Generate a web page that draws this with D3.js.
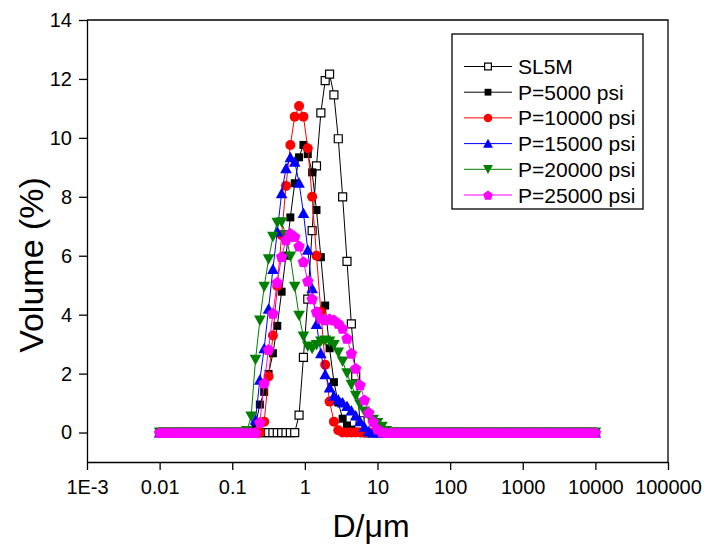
<!DOCTYPE html>
<html><head><meta charset="utf-8">
<script src="https://cdn.jsdelivr.net/npm/d3@7"></script>
<style>body{margin:0;background:#fff} svg text{font-family:"Liberation Sans",Arial,sans-serif;fill:#000}</style>
</head><body><svg id="c" width="706" height="550"></svg>
<script>
// particle diameters (µm)
const diameters = [0.0100,0.01148,0.01318,0.01514,0.01738,0.01995,0.02291,0.02630,0.03020,0.03467,
0.03981,0.04571,0.05248,0.06026,0.06918,0.07943,0.09120,0.1047,0.1202,0.1380,
0.1585,0.1820,0.2089,0.2399,0.2754,0.3162,0.3631,0.4169,0.4786,0.5495,
0.6310,0.7244,0.8318,0.9550,1.096,1.259,1.445,1.660,1.905,2.188,
2.512,2.884,3.311,3.802,4.365,5.012,5.754,6.607,7.586,8.710,
10.00,11.48,13.18,15.14,17.38,19.95,22.91,26.30,30.20,34.67,
39.81,45.71,52.48,60.26,69.18,79.43,91.20,104.7,120.2,138.0,
158.5,182.0,208.9,239.9,275.4,316.2,363.1,416.9,478.6,549.5,
631.0,724.4,831.8,955.0,1096,1259,1445,1660,1905,2188,
2512,2884,3311,3802,4365,5012,5754,6607,7586,8710,10000];

const volSL5M = [0,0,0,0,0,0,0,0,0,0, 0,0,0,0,0,0,0,0,0,0, 0,0,0,0,0,0,0,0,0,0,
0,0,0.59,2.55,4.53,6.85,9.05,10.85,11.94,12.16, 11.46,9.97,8.0,5.81,3.69,1.92,0.4,0,0,0,
0,0,0,0,0,0,0,0,0,0, 0,0,0,0,0,0,0,0,0,0, 0,0,0,0,0,0,0,0,0,0, 0,0,0,0,0,0,0,0,0,0, 0,0,0,0,0,0,0,0,0,0,0];
const volP5000 = [0,0,0,0,0,0,0,0,0,0, 0,0,0,0,0,0,0,0,0,0, 0,0,0.25,0.95,1.38,1.99,2.69,3.62,4.78,6.0,
7.3,8.46,9.34,9.76,9.45,8.83,7.55,5.95,4.31,2.86, 1.71,1.02,0.47,0.24,0.1,0.03,0,0,0,0,
0,0,0,0,0,0,0,0,0,0, 0,0,0,0,0,0,0,0,0,0, 0,0,0,0,0,0,0,0,0,0, 0,0,0,0,0,0,0,0,0,0, 0,0,0,0,0,0,0,0,0,0,0];
const volP10000 = [0,0,0,0,0,0,0,0,0,0, 0,0,0,0,0,0,0,0,0,0, 0,0,0,0,0.37,1.9,3.29,4.97,6.7,8.37,
9.76,10.72,11.08,10.72,9.65,8.0,6.0,4.1,2.3,1.05, 0.37,0.08,0,0,0,0,0,0,0,0,
0,0,0,0,0,0,0,0,0,0, 0,0,0,0,0,0,0,0,0,0, 0,0,0,0,0,0,0,0,0,0, 0,0,0,0,0,0,0,0,0,0, 0,0,0,0,0,0,0,0,0,0,0];
const volP15000 = [0,0,0,0,0,0,0,0,0,0, 0,0,0,0,0,0,0,0,0,0, 0,0.05,0.43,1.79,2.86,4.2,5.55,6.82,8.12,8.97,
9.34,9.19,8.48,7.45,6.2,4.9,3.68,2.69,1.98,1.53, 1.25,1.12,1.02,0.9,0.75,0.58,0.38,0.2,0.04,0,
0,0,0,0,0,0,0,0,0,0, 0,0,0,0,0,0,0,0,0,0, 0,0,0,0,0,0,0,0,0,0, 0,0,0,0,0,0,0,0,0,0, 0,0,0,0,0,0,0,0,0,0,0];
const volP20000 = [0,0,0,0,0,0,0,0,0,0, 0,0,0,0,0,0,0,0,0,0, 0.05,0.54,2.47,3.8,4.95,5.88,6.64,7.12,7.14,6.7,
5.97,4.95,3.96,3.26,2.92,2.84,2.97,3.09,3.12,3.09, 2.97,2.72,2.41,2.01,1.62,1.25,0.94,0.71,0.57,0.43,
0.32,0.2,0.05,0,0,0,0,0,0,0, 0,0,0,0,0,0,0,0,0,0, 0,0,0,0,0,0,0,0,0,0, 0,0,0,0,0,0,0,0,0,0, 0,0,0,0,0,0,0,0,0,0,0];
const volP25000 = [0,0,0,0,0,0,0,0,0,0, 0,0,0,0,0,0,0,0,0,0, 0,0,0,0.35,1.68,2.82,4.05,5.1,5.97,6.54,
6.76,6.65,6.33,5.8,5.14,4.54,4.1,3.88,3.83,3.86, 3.82,3.71,3.54,3.2,2.69,2.18,1.62,1.11,0.68,0.37,
0.12,0.02,0,0,0,0,0,0,0,0, 0,0,0,0,0,0,0,0,0,0, 0,0,0,0,0,0,0,0,0,0, 0,0,0,0,0,0,0,0,0,0, 0,0,0,0,0,0,0,0,0,0,0];

const seriesNames = ["SL5M","P=5000 psi","P=10000 psi","P=15000 psi","P=20000 psi","P=25000 psi"];
const xTickValues = [1e-3,1e-2,1e-1,1,10,100,1000,10000,100000];
const xTickLabels = ["1E-3","0.01","0.1","1","10","100","1000","10000","100000"];
const yTickValues = [0,2,4,6,8,10,12,14];
const yMinorValues = [-1,1,3,5,7,9,11,13];

const series = [
  {name:seriesNames[0], values:volSL5M, line:"#000", shape:"square", fill:"#fff", stroke:"#000"},
  {name:seriesNames[1], values:volP5000, line:"#000", shape:"square", fill:"#000", stroke:"none"},
  {name:seriesNames[2], values:volP10000, line:"#ff0000", shape:"circle", fill:"#ff0000", stroke:"none"},
  {name:seriesNames[3], values:volP15000, line:"#0000ff", shape:"up", fill:"#0000ff", stroke:"none"},
  {name:seriesNames[4], values:volP20000, line:"#008000", shape:"down", fill:"#008000", stroke:"none"},
  {name:seriesNames[5], values:volP25000, line:"#ff00ff", shape:"pent", fill:"#ff00ff", stroke:"none"}
];

const L=87, R=668, T=20, B=462;
const svg = d3.select("#c");
const x = d3.scaleLog().domain([1e-3,1e5]).range([L,R]);
const y = d3.scaleLinear().domain([-1,14]).range([B,T]);

function shapePath(shape, k){
  k = k||1;
  if(shape==="square"){const s=4*k; return `M${-s},${-s}H${s}V${s}H${-s}Z`;}
  if(shape==="circle"){const r=5*k; return `M${r},0A${r},${r} 0 1,1 ${-r},0A${r},${r} 0 1,1 ${r},0Z`;}
  if(shape==="up"){const w=5.8*k,h=5*k; return `M0,${-h-0.5}L${w},${h}L${-w},${h}Z`;}
  if(shape==="down"){const w=5.8*k,h=5*k; return `M0,${h+0.5}L${w},${-h}L${-w},${-h}Z`;}
  if(shape==="pent"){const r=6*k; let p=""; for(let i=0;i<5;i++){const a=-Math.PI/2+i*2*Math.PI/5; p+=(i?"L":"M")+(r*Math.cos(a)).toFixed(2)+","+(r*Math.sin(a)+0.6*k).toFixed(2);} return p+"Z";}
}

// axes
const minorX=[]; for(let e=-3;e<5;e++){for(let m=2;m<=9;m++) minorX.push(m*Math.pow(10,e));}
const gx = svg.append("g").attr("transform",`translate(0,${B})`);
gx.call(d3.axisBottom(x).tickValues(minorX).tickSize(4).tickFormat("").tickSizeOuter(0));
gx.call(d3.axisBottom(x).tickValues(xTickValues).tickFormat((d,i)=>xTickLabels[i]).tickSize(8).tickPadding(10).tickSizeOuter(0));
const gy = svg.append("g").attr("transform",`translate(${L},0)`);
gy.call(d3.axisLeft(y).tickValues(yMinorValues).tickSize(4).tickFormat("").tickSizeOuter(0));
gy.call(d3.axisLeft(y).tickValues(yTickValues).tickSize(8).tickPadding(7).tickSizeOuter(0));
svg.selectAll(".tick text").style("font-size","20px").attr("font-family",null);
svg.selectAll(".domain, .tick line").attr("stroke","#000").attr("stroke-width",1.3);
svg.append("path").attr("d",`M${L},${T}H${R}V${B}`).attr("fill","none").attr("stroke","#000").attr("stroke-width",1.3);

// series
const line = d3.line().x((d,i)=>x(diameters[i])).y(d=>y(d));
series.forEach(s=>{
  const g = svg.append("g");
  g.append("path").attr("d",line(s.values)).attr("fill","none").attr("stroke",s.line).attr("stroke-width",1);
  g.selectAll("path.m").data(s.values).enter().append("path").attr("class","m")
   .attr("transform",(d,i)=>`translate(${x(diameters[i])},${y(d)})`)
   .attr("d",shapePath(s.shape))
   .attr("fill",s.fill).attr("stroke",s.stroke).attr("stroke-width",1.2);
});

// legend
const lg = svg.append("g");
lg.append("rect").attr("x",452).attr("y",34).attr("width",191).attr("height",175).attr("fill","#fff").attr("stroke","#000").attr("stroke-width",1.3);
series.forEach((s,i)=>{
  const cy = 66.5 + i*25.7;
  lg.append("line").attr("x1",464).attr("x2",512).attr("y1",cy).attr("y2",cy).attr("stroke",s.line).attr("stroke-width",1);
  lg.append("path").attr("transform",`translate(488,${cy})`).attr("d",shapePath(s.shape,0.85)).attr("fill",s.fill).attr("stroke",s.stroke).attr("stroke-width",1.2);
  lg.append("text").attr("x",518).attr("y",cy).attr("dy","0.36em").style("font-size","21px").text(s.name);
});

// axis titles
svg.append("text").attr("transform","translate(43,265) rotate(-90)").attr("text-anchor","middle").style("font-size","34px").text("Volume (%)");
svg.append("text").attr("x",371).attr("y",537).attr("text-anchor","middle").style("font-size","32px").text("D/μm");
</script></body></html>
